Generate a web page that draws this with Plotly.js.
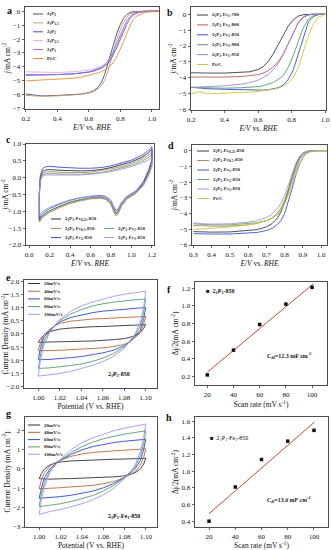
<!DOCTYPE html>
<html><head><meta charset="utf-8">
<script src="https://cdn.plot.ly/plotly-3.0.1.min.js"></script>
<style>html,body{margin:0;padding:0;background:#fff;}#chart{width:331px;height:550px;}</style>
</head><body><div id="chart"></div>
<script>
// ---------- Panel a ----------
const aX = [0.2,0.3,0.4,0.5,0.55,0.6,0.63,0.66,0.68,0.70,0.72,0.74,0.76,0.78,0.80,0.82,0.84,0.86,0.88,0.90,0.95,1.0,1.05];
const aP1  = [-5.95,-6.08,-6.05,-6.0,-5.95,-5.85,-5.7,-5.45,-5.1,-4.55,-3.8,-3.0,-2.2,-1.5,-0.95,-0.5,-0.25,-0.1,-0.04,-0.02,0,0.02,0.03];
const aP15 = [-6.05,-6.1,-6.08,-6.02,-5.97,-5.88,-5.76,-5.58,-5.35,-4.95,-4.35,-3.55,-2.7,-1.95,-1.3,-0.8,-0.45,-0.22,-0.1,-0.05,-0.01,0.01,0.02];
const aP2  = [-4.6,-4.6,-4.55,-4.5,-4.45,-4.38,-4.3,-4.2,-4.1,-3.95,-3.75,-3.45,-3.05,-2.55,-2.0,-1.45,-0.95,-0.55,-0.3,-0.15,-0.03,0,0.01];
const aP25 = [-4.35,-4.4,-4.4,-4.35,-4.3,-4.22,-4.15,-4.05,-3.95,-3.8,-3.6,-3.3,-2.9,-2.4,-1.85,-1.3,-0.85,-0.5,-0.28,-0.15,-0.04,0,0.01];
const aP3  = [-4.55,-4.57,-4.55,-4.5,-4.45,-4.35,-4.25,-4.12,-4.0,-3.85,-3.6,-3.25,-2.8,-2.25,-1.7,-1.15,-0.7,-0.4,-0.2,-0.1,-0.02,0,0.01];
const aPtC = [-5.0,-4.95,-4.9,-4.82,-4.75,-4.62,-4.52,-4.42,-4.33,-4.22,-4.1,-3.9,-3.6,-3.2,-2.75,-2.2,-1.6,-1.05,-0.62,-0.38,-0.12,-0.03,0];
const aNames = ['2<sub>1</sub>P<sub>1</sub>','2<sub>1</sub>P<sub>1.5</sub>','2<sub>1</sub>P<sub>2</sub>','2<sub>1</sub>P<sub>2.5</sub>','2<sub>1</sub>P<sub>3</sub>','Pt/C'];
const aColors = ['#4b4b57','#c99a72','#3d55cf','#e8a4d8','#8b74d9','#f08a3c'];

// ---------- Panel b ----------
const bX = [0.2,0.25,0.3,0.4,0.5,0.55,0.6,0.63,0.66,0.69,0.72,0.75,0.78,0.81,0.84,0.87,0.9,0.93,0.96,1.0];
const b700 = [-3.68,-3.7,-3.7,-3.7,-3.67,-3.62,-3.48,-3.3,-2.98,-2.5,-1.92,-1.3,-0.75,-0.35,-0.12,-0.03,0,0,0,0];
const b800 = [-3.95,-3.96,-3.96,-3.95,-3.92,-3.88,-3.8,-3.7,-3.55,-3.3,-3.0,-2.5,-1.85,-1.15,-0.55,-0.2,-0.06,-0.01,0,0];
const b850 = [-4.6,-4.65,-4.68,-4.72,-4.76,-4.78,-4.78,-4.77,-4.75,-4.7,-4.62,-4.45,-4.1,-3.5,-2.5,-1.35,-0.5,-0.15,-0.03,0];
const b900 = [-4.6,-4.62,-4.63,-4.65,-4.62,-4.6,-4.55,-4.5,-4.42,-4.3,-4.1,-3.85,-3.35,-2.6,-1.7,-0.85,-0.3,-0.08,-0.01,0];
const b950 = [-4.6,-4.58,-4.56,-4.5,-4.4,-4.3,-4.15,-4.0,-3.8,-3.5,-3.1,-2.55,-1.85,-1.1,-0.5,-0.15,-0.04,0,0,0];
const bPtC = [-5.0,-4.88,-5.0,-4.97,-4.93,-4.9,-4.85,-4.82,-4.78,-4.72,-4.65,-4.52,-4.32,-4.0,-3.35,-2.4,-1.35,-0.6,-0.2,0];
const bNames = ['2<sub>1</sub>P<sub>1</sub>-Fe<sub>1</sub>-700','2<sub>1</sub>P<sub>1</sub>-Fe<sub>1</sub>-800','2<sub>1</sub>P<sub>1</sub>-Fe<sub>1</sub>-850','2<sub>1</sub>P<sub>1</sub>-Fe<sub>1</sub>-900','2<sub>1</sub>P<sub>1</sub>-Fe<sub>1</sub>-950','Pt/C'];
const bColors = ['#3a3a48','#c4584e','#3350d6','#4fa35e','#9d86e2','#c9c93c'];

// ---------- Panel c ----------
const cX = [0.10,0.10,0.11,0.13,0.16,0.20,0.30,0.40,0.50,0.60,0.70,0.80,0.90,1.00,1.10,1.15,1.20,1.20,1.17,1.12,1.05,1.00,0.95,0.90,0.87,0.85,0.83,0.80,0.75,0.70,0.60,0.50,0.40,0.30,0.20,0.15,0.12,0.10];
const cFe025 = [-1.28,-0.5,0.0,0.18,0.23,0.24,0.22,0.2,0.2,0.21,0.24,0.3,0.38,0.47,0.6,0.7,0.85,0.5,0.2,-0.15,-0.42,-0.52,-0.62,-0.82,-1.02,-1.08,-0.98,-0.75,-0.62,-0.58,-0.6,-0.66,-0.73,-0.85,-0.99,-1.1,-1.18,-1.28];
const cFe05  = [-1.32,-0.55,-0.05,0.12,0.17,0.18,0.16,0.15,0.15,0.16,0.2,0.26,0.33,0.42,0.55,0.63,0.76,0.42,0.15,-0.18,-0.45,-0.55,-0.65,-0.86,-1.08,-1.14,-1.04,-0.8,-0.65,-0.61,-0.63,-0.69,-0.77,-0.89,-1.03,-1.15,-1.23,-1.32];
const cFe1   = [-1.25,-0.5,-0.08,0.08,0.12,0.13,0.11,0.1,0.1,0.12,0.15,0.21,0.28,0.37,0.49,0.57,0.68,0.38,0.12,-0.2,-0.44,-0.53,-0.62,-0.8,-1.0,-1.05,-0.95,-0.74,-0.62,-0.58,-0.6,-0.65,-0.72,-0.84,-0.98,-1.08,-1.16,-1.25];
const cFe2   = [-1.22,-0.45,0.05,0.26,0.32,0.34,0.31,0.29,0.28,0.28,0.3,0.35,0.43,0.52,0.66,0.77,0.92,0.55,0.25,-0.1,-0.38,-0.48,-0.57,-0.75,-0.93,-0.97,-0.88,-0.68,-0.56,-0.53,-0.55,-0.6,-0.67,-0.78,-0.92,-1.02,-1.1,-1.22];
const cFe3   = [-1.12,-0.45,-0.1,0.04,0.08,0.08,0.07,0.07,0.08,0.1,0.13,0.18,0.25,0.33,0.44,0.5,0.6,0.32,0.08,-0.22,-0.42,-0.5,-0.58,-0.76,-0.96,-1.0,-0.9,-0.7,-0.58,-0.55,-0.56,-0.6,-0.66,-0.76,-0.88,-0.97,-1.04,-1.12];
const cNames = ['2<sub>1</sub>P<sub>1</sub>-Fe<sub>0.25</sub>-850','2<sub>1</sub>P<sub>1</sub>-Fe<sub>0.5</sub>-850','2<sub>1</sub>P<sub>1</sub>-Fe<sub>1</sub>-850','2<sub>1</sub>P<sub>1</sub>-Fe<sub>2</sub>-850','2<sub>1</sub>P<sub>1</sub>-Fe<sub>3</sub>-850'];
const cColors = ['#2f2f40','#b9865a','#62ad70','#3a50d2','#a890e4'];

// ---------- Panel d ----------
const dX = [0.3,0.35,0.4,0.5,0.6,0.65,0.7,0.73,0.76,0.78,0.8,0.82,0.84,0.86,0.88,0.9,0.92,0.94,0.96,0.98,1.0,1.05];
const d025 = [-5.15,-5.17,-5.18,-5.17,-5.1,-5.02,-4.85,-4.65,-4.3,-3.9,-3.3,-2.5,-1.65,-0.95,-0.45,-0.17,-0.05,-0.01,0,0,0,0];
const d05  = [-4.75,-4.78,-4.8,-4.8,-4.72,-4.62,-4.45,-4.28,-3.98,-3.65,-3.15,-2.5,-1.75,-1.05,-0.52,-0.2,-0.06,-0.01,0,0,0,0];
const d1   = [-5.28,-5.3,-5.3,-5.3,-5.25,-5.2,-5.08,-4.95,-4.7,-4.45,-4.0,-3.3,-2.45,-1.6,-0.9,-0.42,-0.15,-0.04,-0.01,0,0,0];
const d2   = [-4.65,-4.7,-4.72,-4.72,-4.65,-4.58,-4.45,-4.3,-4.05,-3.75,-3.3,-2.7,-1.95,-1.2,-0.6,-0.25,-0.08,-0.02,0,0,0,0];
const d3   = [-4.58,-4.65,-4.67,-4.65,-4.55,-4.45,-4.25,-4.05,-3.7,-3.35,-2.85,-2.2,-1.5,-0.85,-0.4,-0.15,-0.04,-0.01,0,0,0,0];
const dPtC = [-5.02,-4.98,-4.93,-4.85,-4.72,-4.62,-4.45,-4.3,-4.05,-3.8,-3.4,-2.85,-2.15,-1.45,-0.85,-0.45,-0.2,-0.08,-0.03,-0.01,0,0];
const dNames = ['2<sub>1</sub>P<sub>1</sub>-Fe<sub>0.25</sub>-850','2<sub>1</sub>P<sub>1</sub>-Fe<sub>0.5</sub>-850','2<sub>1</sub>P<sub>1</sub>-Fe<sub>1</sub>-850','2<sub>1</sub>P<sub>1</sub>-Fe<sub>2</sub>-850','2<sub>1</sub>P<sub>1</sub>-Fe<sub>3</sub>-850','Pt/C'];
const dColors = ['#3a3a48','#b9865a','#3a55d6','#5fa86c','#a890e4','#c9c93c'];

// ---------- Panels e & g (double-layer CVs) ----------
const cvX = [1.000,1.002,1.005,1.010,1.015,1.020,1.030,1.040,1.050,1.060,1.070,1.080,1.090,1.100,1.098,1.095,1.090,1.085,1.080,1.070,1.060,1.050,1.040,1.030,1.020,1.010,1.000];
const e20  = [-0.3,-0.2,-0.05,0.08,0.14,0.18,0.22,0.25,0.27,0.28,0.3,0.31,0.33,0.35,0.2,0.05,-0.08,-0.14,-0.18,-0.22,-0.25,-0.27,-0.28,-0.29,-0.3,-0.31,-0.32];
const e40  = [-0.62,-0.35,-0.05,0.15,0.3,0.4,0.48,0.53,0.56,0.58,0.6,0.62,0.64,0.66,0.35,0.05,-0.15,-0.3,-0.4,-0.48,-0.53,-0.56,-0.58,-0.6,-0.62,-0.64,-0.64];
const e60  = [-0.97,-0.55,-0.15,0.1,0.3,0.45,0.62,0.72,0.8,0.86,0.9,0.94,0.97,1.0,0.55,0.15,-0.1,-0.3,-0.45,-0.62,-0.72,-0.8,-0.86,-0.9,-0.94,-0.97,-0.98];
const e80  = [-1.3,-0.8,-0.3,0.05,0.3,0.5,0.75,0.92,1.05,1.14,1.2,1.25,1.29,1.32,0.8,0.3,-0.05,-0.3,-0.5,-0.75,-0.92,-1.05,-1.14,-1.2,-1.25,-1.29,-1.31];
const e100 = [-1.6,-1.0,-0.45,0.0,0.3,0.55,0.85,1.05,1.2,1.32,1.42,1.5,1.56,1.62,1.0,0.45,0.0,-0.3,-0.55,-0.85,-1.05,-1.2,-1.32,-1.42,-1.5,-1.56,-1.6];
const g20  = [-0.5,-0.25,0.0,0.2,0.3,0.36,0.41,0.44,0.46,0.48,0.5,0.51,0.53,0.55,0.25,0.0,-0.2,-0.3,-0.36,-0.41,-0.44,-0.46,-0.48,-0.5,-0.51,-0.53,-0.5];
const g40  = [-1.03,-0.6,-0.2,0.15,0.32,0.45,0.65,0.77,0.85,0.9,0.94,0.97,1.0,1.03,0.6,0.2,-0.15,-0.32,-0.45,-0.65,-0.77,-0.85,-0.9,-0.94,-0.97,-1.0,-1.03];
const g60  = [-1.52,-1.0,-0.45,0.0,0.25,0.45,0.75,0.98,1.15,1.27,1.36,1.43,1.48,1.53,1.0,0.45,0.0,-0.25,-0.45,-0.75,-0.98,-1.15,-1.27,-1.36,-1.43,-1.48,-1.52];
const g80  = [-1.95,-1.3,-0.7,-0.1,0.2,0.45,0.85,1.15,1.38,1.55,1.68,1.8,1.88,1.97,1.3,0.7,0.1,-0.2,-0.45,-0.85,-1.15,-1.38,-1.55,-1.68,-1.8,-1.88,-1.95];
const g100 = [-2.35,-1.6,-0.9,-0.2,0.2,0.5,1.0,1.35,1.6,1.8,1.97,2.1,2.2,2.32,1.6,0.9,0.2,-0.2,-0.5,-1.0,-1.35,-1.6,-1.8,-1.97,-2.1,-2.2,-2.35];
const rateNames = ['20mV/s','40mV/s','60mV/s','80mV/s','100mV/s'];
const rateColors = ['#333338','#c4643c','#2a4ad8','#52a06c','#a095f0'];

// ---------- Panels f & h ----------
const scanRates = [20,40,60,80,100];
const fVals = [0.22,0.5,0.79,1.02,1.21];
const fFitX = [20,101];
const fFitY = [0.25,1.25];
const hVals = [0.40,0.81,1.14,1.36,1.49];
const hFitX = [20,100.5];
const hFitY = [0.49,1.59];
const fitColor = '#b8522f';

// ---------- build ----------
const W = 331, H = 550;
const FONT = 'Liberation Serif, Times New Roman, serif';
const px = p => p / W, py = p => 1 - p / H;

const panels = [
  {k:'',  X:[25,159],  Y:[7,109],   xr:[0.195,1.045], yr:[-7.02,0.3],  xt:[0.2,0.4,0.6,0.8,1.0], yt:[0,-1,-2,-3,-4,-5,-6,-7], xf:'.1f', yf:'d',
   xtitle:'<i>E</i>/<i>V</i> vs. <i>RHE</i>', ytitle:'<i>j</i>/mA cm<sup>-2</sup>'},
  {k:'2', X:[191,326], Y:[7,110],   xr:[0.2,1.005],   yr:[-6.02,0.45], xt:[0.2,0.4,0.6,0.8,1.0], yt:[0,-1,-2,-3,-4,-5,-6], xf:'.1f', yf:'d',
   xtitle:'<i>E</i>/<i>V</i> vs. <i>RHE</i>', ytitle:'<i>j</i>/mA cm<sup>-2</sup>'},
  {k:'3', X:[26,154],  Y:[144,245], xr:[-0.03,1.22],  yr:[-2.0,1.0],   xt:[0,0.2,0.4,0.6,0.8,1.0,1.2], yt:[1.0,0.5,0,-0.5,-1.0,-1.5,-2.0], xf:'.1f', yf:'.1f',
   xtitle:'<i>E</i>/<i>V</i> vs. <i>RHE</i>', ytitle:'<i>j</i>/mA cm<sup>-2</sup>'},
  {k:'4', X:[192,327], Y:[145,245], xr:[0.293,1.032], yr:[-6.0,0.36],  xt:[0.3,0.4,0.5,0.6,0.7,0.8,0.9,1.0], yt:[0,-1,-2,-3,-4,-5,-6], xf:'.1f', yf:'d',
   xtitle:'<i>E</i>/<i>V</i> vs. <i>RHE</i>', ytitle:'<i>j</i>/mA cm<sup>-2</sup>'},
  {k:'5', X:[24,157],  Y:[280,388], xr:[0.9867,1.1105], yr:[-2.05,2.04], xt:[1.0,1.02,1.04,1.06,1.08,1.1], yt:[2,1.5,1,0.5,0,-0.5,-1,-1.5,-2], xf:'.2f', yf:'.1f',
   xtitle:'Potential (V vs. RHE)', ytitle:'Current Density (mA cm<sup>-2</sup>)'},
  {k:'6', X:[195,327], Y:[282,385], xr:[10.6,111.4], yr:[0.106,1.27], xt:[20,40,60,80,100], yt:[0.2,0.4,0.6,0.8,1.0,1.2], xf:'d', yf:'.1f',
   xtitle:'Scan rate (mV s<sup>-1</sup>)', ytitle:'Δj/2(mA cm<sup>-2</sup>)'},
  {k:'7', X:[25,157],  Y:[417,527], xr:[0.9867,1.1105], yr:[-3.0,2.68], xt:[1.0,1.02,1.04,1.06,1.08,1.1], yt:[2,1,0,-1,-2,-3], xf:'.2f', yf:'d',
   xtitle:'Potential (V vs. RHE)', ytitle:'Current Density (mA cm<sup>-2</sup>)'},
  {k:'8', X:[195,328], Y:[417,527], xr:[9.3,110.7], yr:[0.33,1.65], xt:[20,40,60,80,100], yt:[0.4,0.6,0.8,1.0,1.2,1.4,1.6], xf:'d', yf:'.1f',
   xtitle:'Scan rate (mV s<sup>-1</sup>)', ytitle:'Δj/2(mA cm<sup>-2</sup>)'}
];

const layout = {
  width: W, height: H, margin:{l:0,r:0,t:0,b:0}, showlegend:false,
  paper_bgcolor:'#fff', plot_bgcolor:'#fff',
  font:{family:FONT, size:7, color:'#111'},
  annotations:[], shapes:[]
};
panels.forEach(p => {
  const common = {showline:true, mirror:true, linecolor:'#222', linewidth:0.8, ticks:'outside', ticklen:2.5, tickwidth:0.7,
    tickcolor:'#222', showgrid:false, zeroline:false, tickfont:{family:FONT, size:7, color:'#111'}, automargin:false};
  layout['xaxis'+p.k] = Object.assign({}, common, {domain:[px(p.X[0]), px(p.X[1])], range:p.xr, tickvals:p.xt, tickformat:p.xf,
    anchor:'y'+p.k, ticklabelstandoff:0, title:{text:p.xtitle, font:{family:FONT, size:7.5, color:'#111'}, standoff:2}});
  layout['yaxis'+p.k] = Object.assign({}, common, {domain:[py(p.Y[1]), py(p.Y[0])], range:p.yr, tickvals:p.yt, tickformat:p.yf,
    anchor:'x'+p.k, title:{text:p.ytitle, font:{family:FONT, size:7.5, color:'#111'}, standoff:1}});
});

const traces = [];
function addLines(xs, ys, colors, ax) {
  ys.forEach((y, i) => traces.push({x:xs, y:y, type:'scatter', mode:'lines', xaxis:'x'+ax, yaxis:'y'+ax,
    line:{color:colors[i], width:0.9}, hoverinfo:'skip'}));
}
addLines(aX, [aP1,aP15,aP2,aP25,aP3,aPtC], aColors, '');
addLines(bX, [b700,b800,b850,b900,b950,bPtC], bColors, '2');
addLines(cX, [cFe025,cFe05,cFe1,cFe2,cFe3], cColors, '3');
addLines(dX, [d025,d05,d1,d2,d3,dPtC], dColors, '4');
addLines(cvX, [e20,e40,e60,e80,e100], rateColors, '5');
addLines(cvX, [g20,g40,g60,g80,g100], rateColors, '7');
traces.push({x:fFitX, y:fFitY, type:'scatter', mode:'lines', xaxis:'x6', yaxis:'y6', line:{color:fitColor, width:1}});
traces.push({x:scanRates, y:fVals, type:'scatter', mode:'markers', xaxis:'x6', yaxis:'y6', marker:{symbol:'square', size:3.5, color:'#111'}});
traces.push({x:hFitX, y:hFitY, type:'scatter', mode:'lines', xaxis:'x8', yaxis:'y8', line:{color:fitColor, width:1}});
traces.push({x:scanRates, y:hVals, type:'scatter', mode:'markers', xaxis:'x8', yaxis:'y8', marker:{symbol:'square', size:3.5, color:'#111'}});

// custom compact legends (line swatch + label)
function legendEntry(x0, y, len, name, color, size) {
  layout.shapes.push({type:'line', xref:'paper', yref:'paper', x0:px(x0), x1:px(x0+len), y0:py(y), y1:py(y), line:{color:color, width:1}});
  layout.annotations.push({xref:'paper', yref:'paper', x:px(x0+len+2), y:py(y), xanchor:'left', yanchor:'middle', showarrow:false,
    text:'<b>'+name+'</b>', font:{family:FONT, size:size, color:'#222'}});
}
function legendCol(x0, y0, dy, len, names, colors, size) {
  names.forEach((n, i) => legendEntry(x0, y0 + i*dy, len, n, colors[i], size));
}
legendCol(33, 14, 8.9, 10, aNames, aColors, 5);
legendCol(197, 15, 9.9, 11, bNames, bColors, 5);
legendCol(197, 151, 9.5, 12, dNames, dColors, 5);
legendCol(28, 283.5, 7.7, 12, rateNames, rateColors, 5);
legendCol(28, 425, 7.3, 12, rateNames, rateColors, 5);
const cPos = [[51,219],[51,228.5],[104,228.5],[51,237.5],[104,237.5]];
cNames.forEach((n, i) => legendEntry(cPos[i][0], cPos[i][1], 10, n, cColors[i], 5));

function note(x, y, text, size, anchor, family) {
  layout.annotations.push({xref:'paper', yref:'paper', x:px(x), y:py(y), xanchor:anchor||'left', yanchor:'middle', showarrow:false,
    text:text, font:{family:family||FONT, size:size, color:'#111'}});
}
// panel letters
[['a',9,10],['b',170,12],['c',8,140],['d',171,146],['e',8,277],['f',169,289],['g',8,413],['h',169,417]].forEach(l =>
  note(l[1], l[2], '<b>'+l[0]+'</b>', 10, 'center', 'Liberation Serif, serif'));
// in-plot texts
note(119, 374, '<b>2<sub>1</sub>P<sub>1</sub>-850</b>', 6, 'center');
note(124, 516, '<b>2<sub>1</sub>P<sub>1</sub>-Fe<sub>1</sub>-850</b>', 6, 'center');
note(204, 291, '<b>■  2<sub>1</sub>P<sub>1</sub>-850</b>', 6);
note(208, 438, '■  2<sub>1</sub>P<sub>1</sub>-Fe<sub>1</sub>-850', 6);
note(265, 355, '<b>C<sub>dl</sub>=12.3 mF cm<sup>-2</sup></b>', 6);
note(265, 499, '<b><i>C<sub>dl</sub>=13.6 mF cm<sup>-2</sup></i></b>', 6);

Plotly.newPlot('chart', traces, layout, {staticPlot:true, displayModeBar:false});
</script></body></html>
